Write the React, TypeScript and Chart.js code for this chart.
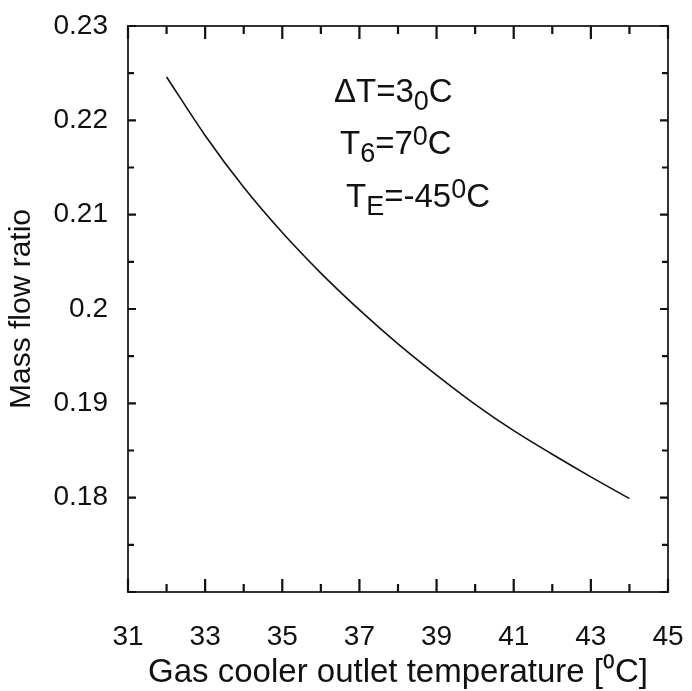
import React, { useEffect, useRef } from "react";
import { Chart, registerables } from "chart.js";

Chart.register(...registerables);

const temperatures = [32, 33, 34, 35, 36, 37, 38, 39, 40, 41, 42, 43, 44];
const massFlowRatio = [0.2246, 0.2184, 0.2129, 0.2081, 0.2038, 0.1999, 0.1963, 0.193, 0.1899, 0.1871, 0.1846, 0.1822, 0.1799];
const xTickLabels = [31, 33, 35, 37, 39, 41, 43, 45];
const yTickLabels = [0.18, 0.19, 0.2, 0.21, 0.22, 0.23];

const FONT = "'Liberation Sans', Arial, Helvetica, sans-serif";
const AXIS_COLOR = "#333";

const isMajorX = (v: number) => xTickLabels.some((t) => Math.abs(t - v) < 1e-6);
const isMajorY = (v: number) => Math.abs(Math.round(v * 100) - v * 100) < 1e-6;

const framePlugin = {
  id: "frameTicks",
  afterDraw(chart: any) {
    const { ctx, chartArea, scales } = chart;
    const { left, right, top, bottom } = chartArea;
    ctx.save();
    ctx.strokeStyle = AXIS_COLOR;
    ctx.lineWidth = 2;
    ctx.lineCap = "butt";
    ctx.strokeRect(left, top, right - left, bottom - top);
    ctx.strokeStyle = "#111";
    ctx.lineWidth = 2.2;
    const xs = scales.x;
    xs.ticks.forEach((t: any) => {
      const px = xs.getPixelForValue(t.value);
      const len = isMajorX(t.value) ? 13 : 8;
      ctx.beginPath();
      ctx.moveTo(px, bottom);
      ctx.lineTo(px, bottom - len);
      ctx.moveTo(px, top);
      ctx.lineTo(px, top + len);
      ctx.stroke();
    });
    const ys = scales.y;
    ys.ticks.forEach((t: any) => {
      const py = ys.getPixelForValue(t.value);
      const len = isMajorY(t.value) ? 8 : 6;
      ctx.beginPath();
      ctx.moveTo(left, py);
      ctx.lineTo(left + len, py);
      ctx.moveTo(right, py);
      ctx.lineTo(right - len, py);
      ctx.stroke();
    });
    ctx.restore();
  },
};

type Part = { t: string; mode?: "sub" | "sup" };

const annotationLines: Part[][] = [
  [{ t: "\u0394T=3" }, { t: "0", mode: "sub" }, { t: "C" }],
  [{ t: "T" }, { t: "6", mode: "sub" }, { t: "=7" }, { t: "0", mode: "sup" }, { t: "C" }],
  [{ t: "T" }, { t: "E", mode: "sub" }, { t: "=-45" }, { t: "0", mode: "sup" }, { t: "C" }],
];

const annotationPlugin = {
  id: "annotationText",
  afterDraw(chart: any) {
    const { ctx, chartArea } = chart;
    const base = 33;
    const small = 27;
    const lines = [
      { x: chartArea.left + 206, y: chartArea.top + 76 },
      { x: chartArea.left + 212, y: chartArea.top + 128 },
      { x: chartArea.left + 218, y: chartArea.top + 181 },
    ];
    ctx.save();
    ctx.fillStyle = "#111";
    ctx.textBaseline = "alphabetic";
    ctx.textAlign = "left";
    annotationLines.forEach((parts, i) => {
      let x = lines[i].x;
      const y = lines[i].y;
      parts.forEach((p) => {
        if (p.mode) {
          ctx.font = `${small}px ${FONT}`;
          const dy = p.mode === "sub" ? 8 : -9;
          ctx.fillText(p.t, x, y + dy);
        } else {
          ctx.font = `${base}px ${FONT}`;
          ctx.fillText(p.t, x, y);
        }
        x += ctx.measureText(p.t).width;
      });
    });
    ctx.restore();
  },
};

const zeroPadding = (s: any) => {
  s.paddingTop = 0;
  s.paddingBottom = 0;
  s.paddingLeft = 0;
  s.paddingRight = 0;
};

export default function App() {
  const ref = useRef<HTMLCanvasElement | null>(null);
  useEffect(() => {
    if (!ref.current) return;
    const chart = new Chart(ref.current, {
      type: "line",
      data: {
        datasets: [
          {
            data: temperatures.map((x, i) => ({ x, y: massFlowRatio[i] })),
            borderColor: "#111",
            borderWidth: 1.6,
            pointRadius: 0,
            fill: false,
            cubicInterpolationMode: "monotone",
          },
        ],
      },
      options: {
        animation: false,
        responsive: false,
        devicePixelRatio: 1,
        layout: { padding: { left: 0, right: 24, top: 26, bottom: 0 } },
        plugins: { legend: { display: false }, tooltip: { enabled: false } },
        scales: {
          x: {
            type: "linear",
            min: 31,
            max: 45,
            grid: { display: false, drawTicks: false },
            border: { display: false },
            ticks: {
              stepSize: 1,
              autoSkip: false,
              maxRotation: 0,
              padding: 28,
              color: "#111",
              font: { family: FONT, size: 28 },
              callback: (v: any) => (isMajorX(Number(v)) ? String(v) : ""),
            },
            title: {
              display: true,
              text: "Gas cooler outlet temperature [\u2070C]",
              color: "#111",
              font: { family: FONT, size: 33 },
              padding: { top: 2, bottom: -2 },
            },
            afterFit: (s: any) => {
              s.height = 99;
              zeroPadding(s);
            },
          },
          y: {
            type: "linear",
            min: 0.17,
            max: 0.23,
            grid: { display: false, drawTicks: false },
            border: { display: false },
            ticks: {
              stepSize: 0.005,
              autoSkip: false,
              padding: 20,
              color: "#111",
              font: { family: FONT, size: 28 },
              callback: (v: any) => {
                const n = Number(v);
                if (!isMajorY(n)) return "";
                const r = Math.round(n * 100) / 100;
                return yTickLabels.some((t) => Math.abs(t - r) < 1e-9) ? String(r) : "";
              },
            },
            title: {
              display: true,
              text: "Mass flow ratio",
              color: "#111",
              font: { family: FONT, size: 30 },
              padding: { top: 4, bottom: 0 },
            },
            afterFit: (s: any) => {
              s.width = 128;
              zeroPadding(s);
            },
          },
        },
      },
      plugins: [framePlugin, annotationPlugin],
    } as any);
    return () => chart.destroy();
  }, []);
  return (
    <div style={{ position: "fixed", left: 0, top: 0, width: 692, height: 691, background: "#fff" }}>
      <canvas ref={ref} width={692} height={691} style={{ width: 692, height: 691, display: "block" }} />
    </div>
  );
}
